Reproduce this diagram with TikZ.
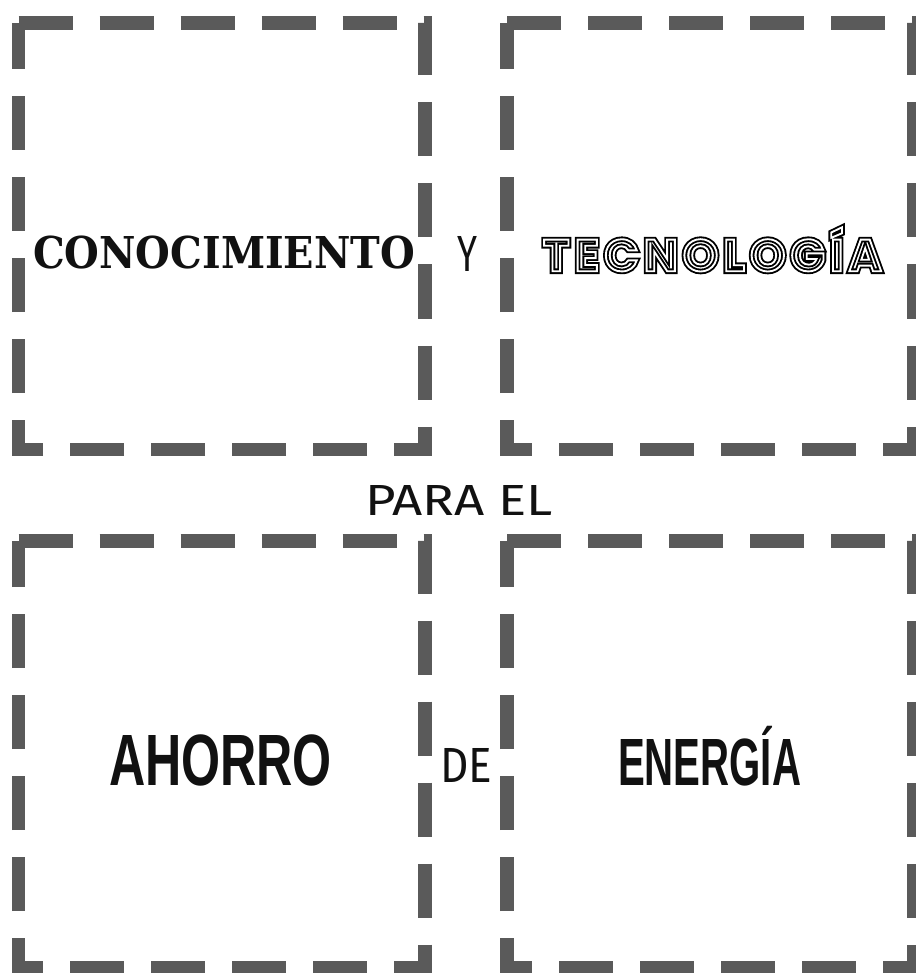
\documentclass[tikz,border=0pt]{standalone}
\usepackage{fontspec}
\usepackage{graphicx}
\newfontfamily\slabfont{DejaVu Serif}
\newfontfamily\geofont{Poppins}
\newfontfamily\handfont{Fira Sans}
\newfontfamily\blockfont{Liberation Sans}
\definecolor{dashgray}{RGB}{90,90,90}
\definecolor{ink}{RGB}{17,17,17}
\newcommand\fitbox[3]{\resizebox{#1pt}{#2pt}{\smash{#3}\vphantom{E}}}
\newcommand\ls{\kern5.2pt}
\newcommand\techword[2]{\geofont\bfseries\fontsize{45}{45}\selectfont\special{pdf:literal direct 1 Tr #1 w}\color{#2}T\ls E\ls C\ls N\ls O\ls L\ls O\ls G\ls \'I\ls A\special{pdf:literal direct 0 Tr}}
\tikzset{
  dashbox/.style={draw=dashgray, line width=13.5pt, dash pattern=on 54pt off 27pt, line join=miter},
  word/.style={inner sep=0pt, outer sep=0pt, anchor=base west, text=ink}
}
\begin{document}
\begin{tikzpicture}[x=1pt,y=-1pt]
\useasboundingbox (0,0) rectangle (915,973);
% boxes
\coordinate (a1) at (18.5,23);  \coordinate (a2) at (425,23);  \coordinate (a3) at (425,449.5); \coordinate (a4) at (18.5,449.5);
\coordinate (b1) at (507,23);   \coordinate (b2) at (913.5,23);\coordinate (b3) at (913.5,449.5);\coordinate (b4) at (507,449.5);
\coordinate (c1) at (18.5,541); \coordinate (c2) at (425,541); \coordinate (c3) at (425,967.5); \coordinate (c4) at (18.5,967.5);
\coordinate (d1) at (507,541);  \coordinate (d2) at (913.5,541);\coordinate (d3) at (913.5,967.5);\coordinate (d4) at (507,967.5);
\draw[dashbox] (a1) -- (a2) -- (a3) -- (a4) -- cycle;
\draw[dashbox] (b1) -- (b2) -- (b3) -- (b4) -- cycle;
\draw[dashbox] (c1) -- (c2) -- (c3) -- (c4) -- cycle;
\draw[dashbox] (d1) -- (d2) -- (d3) -- (d4) -- cycle;
% words
\node[word] (conoc) at (33,269) {\slabfont\bfseries\fitbox{382}{32}{CONOCIMIENTO}};
\node[word] (y) at (457,272) {\handfont\fitbox{20}{35}{Y}};
\node[word] (tecA) at (543,271.2) {\techword{5.6}{black}};
\node[word] (tecB) at (543,271.2) {\techword{1.86}{white}};
\node[word] (para) at (365,515) {\handfont\fitbox{188}{30}{PARA EL}};
\node[word] (ahorro) at (109,785) {\blockfont\bfseries\fitbox{223}{50}{AHORRO}};
\node[word] (de) at (440,782) {\handfont\fitbox{52}{34}{DE}};
\node[word] (energia) at (618,785) {\blockfont\bfseries\fitbox{183}{46}{ENERG\'IA}};
\end{tikzpicture}
\end{document}
